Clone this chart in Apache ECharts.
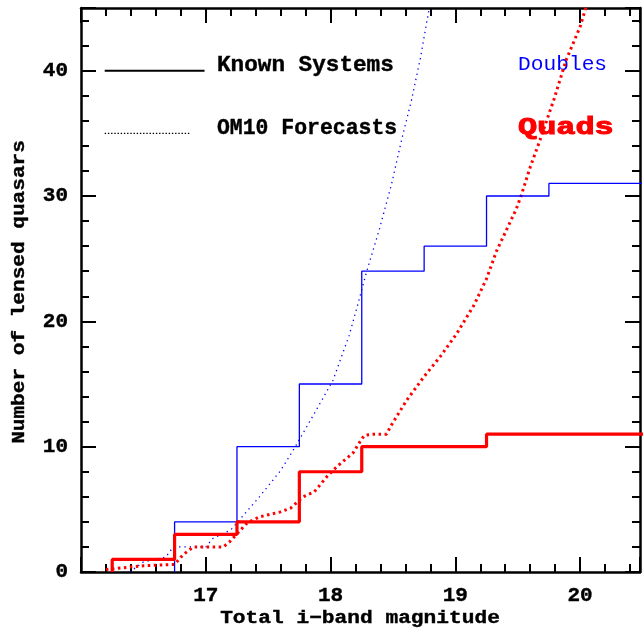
<!DOCTYPE html>
<html><head><meta charset="utf-8">
<script src="https://cdn.jsdelivr.net/npm/echarts@6/dist/echarts.min.js"></script>
<style>html,body{margin:0;padding:0;background:#fff}#c{width:643px;height:633px}</style>
</head><body><div id="c"></div>
<script>
// Known systems (cumulative step counts)
var knownDoubleMag = [16.75, 16.75, 17.25, 17.75, 18.25, 18.75, 19.25, 19.75, 20.6];
var knownDoubleN   = [0, 4, 10, 15, 24, 26, 30, 31, 31];
var knownQuadMag   = [16.25, 16.25, 16.75, 17.25, 17.75, 18.25, 19.25, 20.6];
var knownQuadN     = [0, 1, 3, 4, 8, 10, 11, 11];
// OM10 forecasts
var om10DoubleMag = [16.39, 16.5, 16.68, 16.74, 17.0, 17.06, 17.2, 17.43, 17.6, 17.7, 17.85, 18.02, 18.15, 18.22, 18.29, 18.39, 18.49, 18.57, 18.65, 18.72, 18.8];
var om10DoubleN   = [0, 0.8, 1.2, 2.0, 2.0, 2.7, 3.35, 6.0, 8.1, 9.7, 12.3, 15.3, 18.9, 21.4, 24.0, 27.3, 31.0, 34.5, 37.7, 41.0, 45.5];
var om10QuadMag = [16.2, 16.5, 16.75, 16.82, 16.9, 17.14, 17.19, 17.33, 17.43, 17.6, 17.68, 17.78, 17.87, 17.97, 18.05, 18.18, 18.23, 18.27, 18.35, 18.45, 18.48, 18.61, 18.75, 18.88, 19.01, 19.15, 19.25, 19.33, 19.41, 19.49, 19.53, 19.6, 19.68, 19.79, 19.89, 20.0, 20.06];
var om10QuadN   = [0.2, 0.5, 0.6, 1.4, 2.0, 2.0, 2.4, 3.9, 4.4, 4.8, 5.1, 6.0, 6.4, 7.6, 8.4, 9.5, 10.3, 10.9, 11.0, 11.0, 11.6, 13.7, 15.6, 17.2, 19.0, 21.3, 23.4, 25.6, 27.3, 29.0, 30.1, 32.3, 34.5, 37.7, 40.9, 43.5, 45.5];
// legend sample lines (data coordinates)
var legendLineMag = [16.19, 16.99];
var legendKnownN = 40;
var legendDotMag = [16.19, 16.87];
var legendDotN = 35;
// axes
var xMin = 16, xMax = 20.48, xTicks = [17, 18, 19, 20];
var yMin = 0, yMax = 45, yTicks = [0, 10, 20, 30, 40];
var xTitle = 'Total i\u2212band magnitude';
var yTitle = 'Number of lensed quasars';

function pairs(xs, ys) { return xs.map(function (x, i) { return [x, ys[i]]; }); }

var MONO = '"Liberation Mono"';
var chart = echarts.init(document.getElementById('c'), null, {renderer: 'canvas'});

function labelStyle(show, ticks) {
  return {show: show, color: '#000', fontFamily: 'Liberation Mono', fontWeight: 'bold', fontSize: 21, margin: 13,
    textBorderColor: '#000', textBorderWidth: 0.4,
    formatter: function (v) { return ticks.indexOf(v) >= 0 ? String(v) : ''; }};
}
function xAx(pos, major, showLabel) {
  return {
    type: 'value', position: pos, min: xMin, max: xMax, interval: major ? 1 : 0.2,
    axisLine: {show: major, onZero: false, lineStyle: {color: '#000', width: 2.5}},
    axisTick: {show: true, inside: true, length: major ? 15 : 8, lineStyle: {color: '#000', width: 2}},
    axisLabel: labelStyle(showLabel, xTicks),
    splitLine: {show: false}
  };
}
function yAx(pos, major, showLabel) {
  return {
    type: 'value', position: pos, min: yMin, max: yMax, interval: major ? 10 : 2,
    axisLine: {show: major, onZero: false, lineStyle: {color: '#000', width: 2.5}},
    axisTick: {show: true, inside: true, length: major ? 15 : 8, lineStyle: {color: '#000', width: 2}},
    axisLabel: labelStyle(showLabel, yTicks),
    splitLine: {show: false}
  };
}

chart.setOption({
  animation: false,
  grid: {left: 81, right: 2, top: 8, bottom: 61},
  xAxis: [xAx('bottom', true, true), xAx('bottom', false, false), xAx('top', true, false), xAx('top', false, false)],
  yAxis: [yAx('left', true, true), yAx('left', false, false), yAx('right', true, false), yAx('right', false, false)],
  series: [
    {type: 'line', data: pairs(om10DoubleMag, om10DoubleN), showSymbol: false,
      lineStyle: {color: '#0000ff', width: 1.3, type: [1.3, 4]}},
    {type: 'line', data: pairs(om10QuadMag, om10QuadN), showSymbol: false,
      lineStyle: {color: '#ff0000', width: 3, type: [2.5, 3.5]}},
    {type: 'line', step: 'end', data: pairs(knownDoubleMag, knownDoubleN), showSymbol: false,
      lineStyle: {color: '#0000ff', width: 1.3}},
    {type: 'line', step: 'end', data: pairs(knownQuadMag, knownQuadN), showSymbol: false,
      lineStyle: {color: '#ff0000', width: 3.2}},
    {type: 'line', data: [[legendLineMag[0], legendKnownN], [legendLineMag[1], legendKnownN]], showSymbol: false,
      lineStyle: {color: '#000', width: 2}},
    {type: 'line', data: [[legendDotMag[0], legendDotN], [legendDotMag[1], legendDotN]], showSymbol: false,
      lineStyle: {color: '#000', width: 1.4, type: [1.4, 1.8]}}
  ],
  graphic: [
    {type: 'text', x: 217, y: 65, scaleX: 1.03, style: {text: 'Known Systems', fill: '#000', stroke: '#000', lineWidth: 0.4, font: 'bold 22px ' + MONO, textVerticalAlign: 'middle'}},
    {type: 'text', x: 217, y: 128, scaleX: 0.975, style: {text: 'OM10 Forecasts', fill: '#000', stroke: '#000', lineWidth: 0.4, font: 'bold 22px ' + MONO, textVerticalAlign: 'middle'}},
    {type: 'text', x: 518, y: 64, scaleX: 1.01, style: {text: 'Doubles', fill: '#0000ff', font: '21px ' + MONO, textVerticalAlign: 'middle'}},
    {type: 'text', x: 518, y: 128, scaleX: 1.33, style: {text: 'Quads', fill: '#ff0000', stroke: '#ff0000', lineWidth: 1, font: 'bold 24px ' + MONO, textVerticalAlign: 'middle'}},
    {type: 'text', x: 360, y: 618, scaleX: 1.115, style: {text: xTitle, fill: '#000', stroke: '#000', lineWidth: 0.4, font: 'bold 19px ' + MONO, textAlign: 'center', textVerticalAlign: 'middle'}},
    {type: 'text', x: 19, y: 292, rotation: Math.PI / 2, scaleX: 1.11, style: {text: yTitle, fill: '#000', stroke: '#000', lineWidth: 0.4, font: 'bold 19px ' + MONO, textAlign: 'center', textVerticalAlign: 'middle'}}
  ]
});
</script></body></html>
